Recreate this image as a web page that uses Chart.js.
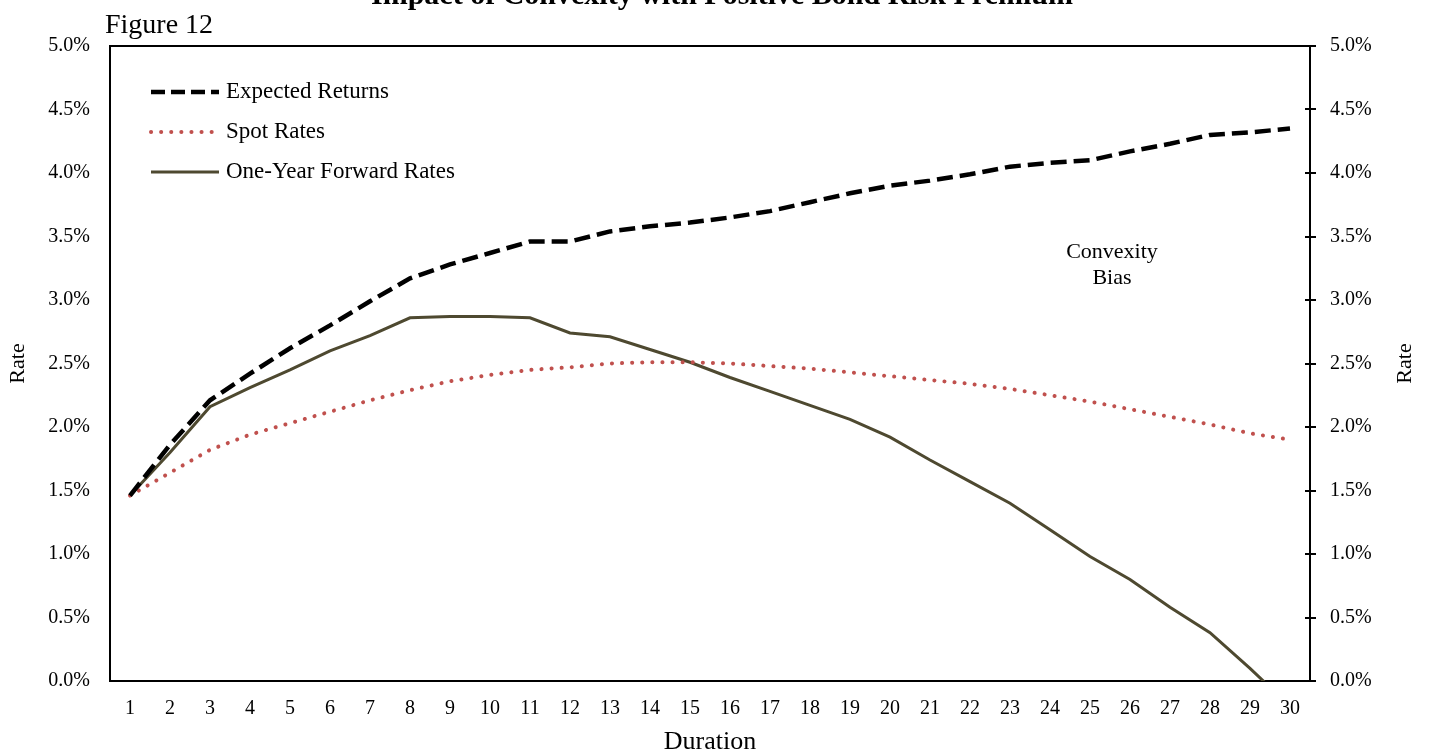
<!DOCTYPE html>
<html><head><meta charset="utf-8">
<script src="https://cdn.jsdelivr.net/npm/chart.js@4.4.1/dist/chart.umd.min.js"></script>
<style>
html,body{margin:0;padding:0;background:#fff;width:1430px;height:754px;overflow:hidden;}
#wrap{position:relative;width:1430px;height:754px;}
canvas{position:absolute;left:0;top:0;}
#title{position:absolute;left:0;width:1444px;top:-21px;text-align:center;font:bold 30px "Liberation Serif";line-height:30px;white-space:nowrap;color:#000;}
#fig{position:absolute;left:105px;top:10px;font:28px "Liberation Serif";line-height:28px;color:#000;}
</style></head>
<body><div id="wrap"><canvas id="c" width="1430" height="754"></canvas><div id="title">Impact of Convexity with Positive Bond Risk Premium</div><div id="fig">Figure 12</div></div>
<script>
const durations = ['1','2','3','4','5','6','7','8','9','10','11','12','13','14','15','16','17','18','19','20','21','22','23','24','25','26','27','28','29','30'];
const expectedReturns = [1.46,1.86,2.21,2.42,2.62,2.80,2.99,3.17,3.28,3.37,3.46,3.46,3.54,3.58,3.61,3.65,3.70,3.77,3.84,3.90,3.94,3.99,4.05,4.08,4.10,4.17,4.23,4.30,4.32,4.35];
const spotRates = [1.46,1.64,1.82,1.94,2.03,2.12,2.21,2.29,2.36,2.41,2.45,2.47,2.50,2.51,2.51,2.50,2.48,2.46,2.43,2.40,2.37,2.34,2.30,2.25,2.20,2.14,2.08,2.02,1.95,1.90];
const forwardRates = [1.46,1.80,2.16,2.31,2.45,2.60,2.72,2.86,2.87,2.87,2.86,2.74,2.71,2.61,2.51,2.39,2.28,2.17,2.06,1.92,1.74,1.57,1.40,1.19,0.98,0.80,0.58,0.38,0.10,-0.20];
const seriesNames = ['Expected Returns','Spot Rates','One-Year Forward Rates'];
const axisTitleX = 'Duration';
const axisTitleY = 'Rate';
const annotationLines = ['Convexity','Bias'];

const SERIF = '"Liberation Serif", "Times New Roman", serif';

const framePlugin = {
  id: 'frame',
  beforeDatasetsDraw(chart) {
    const {ctx, chartArea: a} = chart;
    ctx.save();
    ctx.strokeStyle = '#000';
    ctx.lineWidth = 2;
    ctx.strokeRect(a.left, a.top, a.right - a.left, a.bottom - a.top);
    const s = chart.scales.y2;
    ctx.beginPath();
    s.ticks.forEach(t => {
      const y = Math.round(s.getPixelForValue(t.value));
      ctx.moveTo(a.right - 5, y);
      ctx.lineTo(a.right + 6, y);
    });
    ctx.stroke();
    ctx.restore();
  },
  afterDraw(chart) {
    const {ctx, chartArea: a} = chart;
    ctx.save();
    // legend
    ctx.font = '23px ' + SERIF;
    ctx.textBaseline = 'middle';
    ctx.fillStyle = '#000';
    chart.data.datasets.forEach((ds, i) => {
      const y = 92 + i * 40;
      ctx.beginPath();
      ctx.strokeStyle = ds.borderColor;
      ctx.lineWidth = ds.borderWidth;
      ctx.lineCap = ds.borderCapStyle || 'butt';
      ctx.setLineDash(ds.legendDash || ds.borderDash || []);
      ctx.moveTo(151, y);
      ctx.lineTo(219, y);
      ctx.stroke();
      ctx.setLineDash([]);
      ctx.fillText(ds.label, 226, y);
    });
    // annotation
    ctx.textAlign = 'center';
    ctx.font = '22px ' + SERIF;
    ctx.fillText(annotationLines[0], 1112, 252);
    ctx.fillText(annotationLines[1], 1112, 278);
    // right axis title
    ctx.translate(1405, (a.top + a.bottom) / 2);
    ctx.rotate(-Math.PI / 2);
    ctx.font = '22px ' + SERIF;
    ctx.fillText(axisTitleY, 0, 0);
    ctx.restore();
  }
};

new Chart(document.getElementById('c'), {
  type: 'line',
  data: {
    labels: durations,
    datasets: [
      {label: seriesNames[0], data: expectedReturns, borderColor: '#000000', borderWidth: 4.5, borderDash: [16, 7], legendDash: [14, 6], borderCapStyle: 'butt', pointRadius: 0, tension: 0, fill: false, yAxisID: 'y'},
      {label: seriesNames[1], data: spotRates, borderColor: '#C0504D', borderWidth: 4, borderDash: [0.1, 10], borderCapStyle: 'round', pointRadius: 0, tension: 0, fill: false, yAxisID: 'y'},
      {label: seriesNames[2], data: forwardRates, borderColor: '#4E4930', borderWidth: 3, borderCapStyle: 'butt', pointRadius: 0, tension: 0, fill: false, yAxisID: 'y'}
    ]
  },
  options: {
    responsive: false,
    animation: false,
    events: [],
    layout: {padding: {top: 46, left: 0, right: 0, bottom: 0}},
    plugins: {legend: {display: false}, tooltip: {enabled: false}, title: {display: false}},
    scales: {
      x: {
        offset: true,
        grid: {display: false, drawTicks: false},
        border: {display: false},
        ticks: {color: '#000', font: {family: SERIF, size: 20}, padding: 16, maxRotation: 0, autoSkip: false},
        title: {display: true, text: axisTitleX, color: '#000', font: {family: SERIF, size: 26, lineHeight: 1}, padding: {top: 0, bottom: -1}},
        afterFit(s) { s.height = 73; }
      },
      y: {
        position: 'left',
        min: 0, max: 5,
        grid: {display: false, drawTicks: false},
        border: {display: false},
        ticks: {stepSize: 0.5, color: '#000', font: {family: SERIF, size: 20}, padding: 20, callback: v => v.toFixed(1) + '%'},
        title: {display: true, text: axisTitleY, color: '#000', font: {family: SERIF, size: 22, lineHeight: 1}, padding: {top: 7, bottom: 0}},
        afterFit(s) { s.width = 110; }
      },
      y2: {
        position: 'right',
        min: 0, max: 5,
        grid: {display: false, drawTicks: false},
        border: {display: false},
        ticks: {stepSize: 0.5, color: '#000', font: {family: SERIF, size: 20}, padding: 20, callback: v => v.toFixed(1) + '%'},
        afterFit(s) { s.width = 120; }
      }
    }
  },
  plugins: [framePlugin]
});
</script>
</body></html>
